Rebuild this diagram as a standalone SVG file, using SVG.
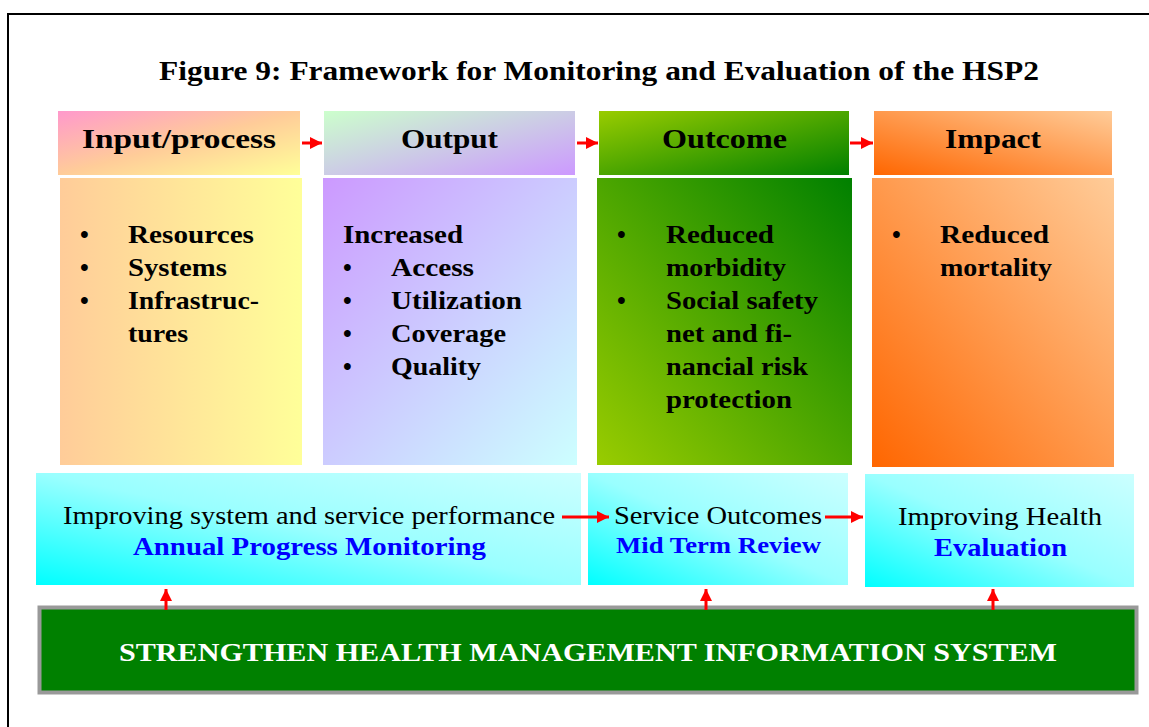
<svg xmlns="http://www.w3.org/2000/svg" width="1149" height="727" viewBox="0 0 1149 727">
<defs>
<linearGradient id="gInH" x1="0" y1="0" x2="1" y2="1"><stop offset="0" stop-color="#ff99cc"/><stop offset="0.5" stop-color="#ffcc99"/><stop offset="1" stop-color="#ffff99"/></linearGradient>
<linearGradient id="gOutH" x1="0" y1="0" x2="1" y2="1"><stop offset="0" stop-color="#ccffcc"/><stop offset="1" stop-color="#cc99ff"/></linearGradient>
<linearGradient id="gOcH" x1="0" y1="0" x2="1" y2="1"><stop offset="0" stop-color="#99cc00"/><stop offset="1" stop-color="#008000"/></linearGradient>
<linearGradient id="gImH" x1="0" y1="1" x2="1" y2="0"><stop offset="0" stop-color="#ff6600"/><stop offset="1" stop-color="#ffcc99"/></linearGradient>
<linearGradient id="gInB" x1="0" y1="0" x2="1" y2="0"><stop offset="0" stop-color="#ffcc99"/><stop offset="1" stop-color="#ffff99"/></linearGradient>
<linearGradient id="gOutB" x1="0" y1="0" x2="1" y2="1"><stop offset="0" stop-color="#cc99ff"/><stop offset="1" stop-color="#ccffff"/></linearGradient>
<linearGradient id="gOcB" x1="0" y1="1" x2="1" y2="0"><stop offset="0" stop-color="#99cc00"/><stop offset="1" stop-color="#008000"/></linearGradient>
<linearGradient id="gImB" x1="0" y1="1" x2="1" y2="0"><stop offset="0" stop-color="#ff6600"/><stop offset="1" stop-color="#ffcc99"/></linearGradient>
<linearGradient id="gCy" x1="0" y1="1" x2="1" y2="0"><stop offset="0" stop-color="#00ffff"/><stop offset="0.5" stop-color="#99ffff"/><stop offset="1" stop-color="#ccffff"/></linearGradient>
<marker id="ah" viewBox="0 0 10 10" refX="10" refY="5" markerWidth="4" markerHeight="4" markerUnits="strokeWidth" orient="auto"><path d="M0,0 L10,5 L0,10 z" fill="#ff0000"/></marker>
</defs>
<style>
.t{font-family:"Liberation Serif","Times New Roman",serif;}
.title{font-size:27px;font-weight:bold;fill:#000;}
.hd{font-size:28px;font-weight:bold;fill:#000;}
.bd{font-size:25px;font-weight:bold;fill:#000;}
.rg{font-size:25px;fill:#000;}
.bl{font-size:25px;font-weight:bold;fill:#0000ff;}
.wh{font-size:25px;font-weight:bold;fill:#ffffff;}
.ar{stroke:#ff0000;stroke-width:3;fill:none;marker-end:url(#ah);}
</style>
<rect x="0" y="0" width="1149" height="727" fill="#ffffff"/>
<rect x="8" y="14" width="1200" height="800" fill="none" stroke="#000" stroke-width="2"/>
<text class="t title" x="159" y="80" textLength="880" lengthAdjust="spacingAndGlyphs">Figure 9: Framework for Monitoring and Evaluation of the HSP2</text>

<g id="input">
<rect x="58" y="111" width="242" height="64" fill="url(#gInH)"/>
<text class="t hd" x="82" y="148" textLength="194" lengthAdjust="spacingAndGlyphs">Input/process</text>
<rect x="60" y="178" width="242" height="287" fill="url(#gInB)"/>
<text class="t bd" x="80" y="243">•</text>
<text class="t bd" x="80" y="276">•</text>
<text class="t bd" x="80" y="309">•</text>
<text class="t bd" x="128" y="243" textLength="126" lengthAdjust="spacingAndGlyphs">Resources</text>
<text class="t bd" x="128" y="276" textLength="99" lengthAdjust="spacingAndGlyphs">Systems</text>
<text class="t bd" x="128" y="309" textLength="131" lengthAdjust="spacingAndGlyphs">Infrastruc-</text>
<text class="t bd" x="128" y="342" textLength="60" lengthAdjust="spacingAndGlyphs">tures</text>
</g>

<g id="output">
<rect x="324" y="111" width="251" height="64" fill="url(#gOutH)"/>
<text class="t hd" x="401" y="148" textLength="97" lengthAdjust="spacingAndGlyphs">Output</text>
<rect x="323" y="178" width="254" height="287" fill="url(#gOutB)"/>
<text class="t bd" x="343" y="243" textLength="120" lengthAdjust="spacingAndGlyphs">Increased</text>
<text class="t bd" x="343" y="276">•</text>
<text class="t bd" x="343" y="309">•</text>
<text class="t bd" x="343" y="342">•</text>
<text class="t bd" x="343" y="375">•</text>
<text class="t bd" x="391" y="276" textLength="83" lengthAdjust="spacingAndGlyphs">Access</text>
<text class="t bd" x="391" y="309" textLength="131" lengthAdjust="spacingAndGlyphs">Utilization</text>
<text class="t bd" x="391" y="342" textLength="115" lengthAdjust="spacingAndGlyphs">Coverage</text>
<text class="t bd" x="391" y="375" textLength="90" lengthAdjust="spacingAndGlyphs">Quality</text>
</g>

<g id="outcome">
<rect x="599" y="111" width="250" height="64" fill="url(#gOcH)"/>
<text class="t hd" x="662" y="148" textLength="125" lengthAdjust="spacingAndGlyphs">Outcome</text>
<rect x="597" y="178" width="255" height="287" fill="url(#gOcB)"/>
<text class="t bd" x="617" y="243">•</text>
<text class="t bd" x="617" y="309">•</text>
<text class="t bd" x="666" y="243" textLength="108" lengthAdjust="spacingAndGlyphs">Reduced</text>
<text class="t bd" x="666" y="276" textLength="120" lengthAdjust="spacingAndGlyphs">morbidity</text>
<text class="t bd" x="666" y="309" textLength="152" lengthAdjust="spacingAndGlyphs">Social safety</text>
<text class="t bd" x="666" y="342" textLength="126" lengthAdjust="spacingAndGlyphs">net and fi-</text>
<text class="t bd" x="666" y="375" textLength="142" lengthAdjust="spacingAndGlyphs">nancial risk</text>
<text class="t bd" x="666" y="408" textLength="126" lengthAdjust="spacingAndGlyphs">protection</text>
</g>

<g id="impact">
<rect x="874" y="111" width="238" height="64" fill="url(#gImH)"/>
<text class="t hd" x="945" y="148" textLength="96" lengthAdjust="spacingAndGlyphs">Impact</text>
<rect x="872" y="178" width="242" height="289" fill="url(#gImB)"/>
<text class="t bd" x="892" y="243">•</text>
<text class="t bd" x="940" y="243" textLength="109" lengthAdjust="spacingAndGlyphs">Reduced</text>
<text class="t bd" x="940" y="276" textLength="112" lengthAdjust="spacingAndGlyphs">mortality</text>
</g>

<g id="annual">
<rect x="36" y="473" width="545" height="112" fill="url(#gCy)"/>
<text class="t rg" x="63" y="524" textLength="492" lengthAdjust="spacingAndGlyphs">Improving system and service performance</text>
<text class="t bl" x="133" y="555" textLength="353" lengthAdjust="spacingAndGlyphs">Annual Progress Monitoring</text>
</g>

<g id="midterm">
<rect x="588" y="473" width="260" height="112" fill="url(#gCy)"/>
<text class="t rg" x="614" y="524" textLength="208" lengthAdjust="spacingAndGlyphs">Service Outcomes</text>
<text class="t bl" x="616" y="553" textLength="205" lengthAdjust="spacingAndGlyphs" style="font-size:23px">Mid Term Review</text>
</g>

<g id="evaluation">
<rect x="865" y="474" width="269" height="113" fill="url(#gCy)"/>
<text class="t rg" x="898" y="525" textLength="204" lengthAdjust="spacingAndGlyphs">Improving Health</text>
<text class="t bl" x="934" y="556" textLength="133" lengthAdjust="spacingAndGlyphs">Evaluation</text>
</g>

<g id="hmis">
<rect x="39.5" y="607.5" width="1097" height="85" fill="#008000" stroke="#999999" stroke-width="4"/>
<text class="t wh" x="119" y="661" textLength="938" lengthAdjust="spacingAndGlyphs">STRENGTHEN HEALTH MANAGEMENT INFORMATION SYSTEM</text>
</g>

<g id="connectors">
<line class="ar" x1="302" y1="143" x2="322" y2="143"/>
<line class="ar" x1="577" y1="143" x2="598" y2="143"/>
<line class="ar" x1="850" y1="143" x2="873" y2="143"/>
<line class="ar" x1="562" y1="517" x2="609" y2="517"/>
<line class="ar" x1="825" y1="517" x2="863" y2="517"/>
<line class="ar" x1="166" y1="610" x2="166" y2="589"/>
<line class="ar" x1="706" y1="610" x2="706" y2="589"/>
<line class="ar" x1="993" y1="610" x2="993" y2="589"/>
</g>
</svg>
